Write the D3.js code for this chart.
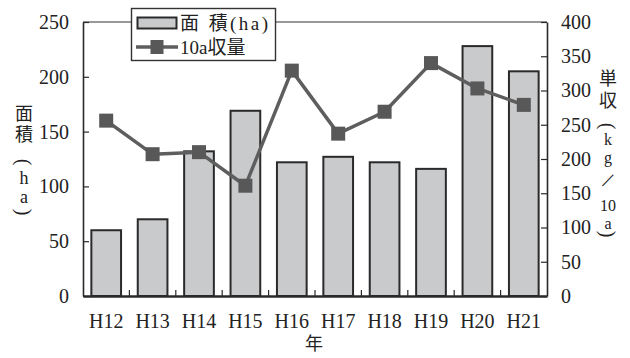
<!DOCTYPE html>
<html>
<head>
<meta charset="utf-8">
<script src="https://cdn.jsdelivr.net/npm/d3@7"></script>
<style>
  html, body { margin: 0; padding: 0; background: #fff; }
  svg { display: block; }
  text { font-family: "Liberation Serif", "Noto Sans CJK JP", serif; fill: #222; }
</style>
</head>
<body>
<svg id="chart" width="630" height="358"></svg>
<script>
// 年次（平成）
const years = ["H12", "H13", "H14", "H15", "H16", "H17", "H18", "H19", "H20", "H21"];
// 作付面積 (ha)
const areaHa = [60, 70, 132, 169, 122, 127, 122, 116, 228, 205];
// 10a当たり収量 (kg/10a)
const yieldPer10a = [256, 207, 210, 161, 329, 237, 269, 340, 303, 279];
// 目盛
const leftTicks = [0, 50, 100, 150, 200, 250];
const rightTicks = [0, 50, 100, 150, 200, 250, 300, 350, 400];

const serif = "'Liberation Serif', 'Noto Sans CJK JP', serif";
const svg = d3.select("#chart");
const plot = { left: 83, right: 547, top: 22, bottom: 296 };

const x = d3.scaleBand().domain(years)
  .range([plot.left, plot.right]).paddingInner(0.36).paddingOuter(0.18);
const yL = d3.scaleLinear().domain([0, 250]).range([plot.bottom, plot.top]);
const yR = d3.scaleLinear().domain([0, 400]).range([plot.bottom, plot.top]);

const inkDark = "#2a2a2a";
const barFill = "#c9cacc";
const lineColor = "#5e5e5e";
const markerColor = "#585858";

// 棒（面積）
svg.append("g").selectAll("rect").data(years).join("rect")
  .attr("x", d => x(d))
  .attr("width", x.bandwidth())
  .attr("y", (d, i) => yL(areaHa[i]))
  .attr("height", (d, i) => yL(0) - yL(areaHa[i]))
  .attr("fill", barFill)
  .attr("stroke", inkDark)
  .attr("stroke-width", 2);

// 上枠線
svg.append("line")
  .attr("x1", plot.left).attr("x2", plot.right)
  .attr("y1", plot.top).attr("y2", plot.top)
  .attr("stroke", "#333").attr("stroke-width", 1.2);

// 左軸
const axL = svg.append("g").attr("transform", `translate(${plot.left},0)`)
  .call(d3.axisLeft(yL).tickValues(leftTicks).tickSize(-6).tickPadding(14).tickSizeOuter(0));
// 右軸
const axR = svg.append("g").attr("transform", `translate(${plot.right},0)`)
  .call(d3.axisRight(yR).tickValues(rightTicks).tickSize(-6).tickPadding(14).tickSizeOuter(0));
// 下軸（ラベル）
const axB = svg.append("g").attr("transform", `translate(0,${plot.bottom})`)
  .call(d3.axisBottom(x).tickSize(0).tickPadding(18));

[axL, axR, axB].forEach(g => {
  g.attr("font-family", serif).attr("font-size", 20);
  g.select(".domain").attr("stroke", inkDark).attr("stroke-width", 1.6);
  g.selectAll(".tick line").attr("stroke", inkDark).attr("stroke-width", 1.2);
  g.selectAll(".tick text").attr("fill", "#222");
});
axB.select(".domain").attr("stroke-width", 2.4);

// 下軸の区切り目盛（カテゴリ間）
const boundaries = years.slice(1).map(d => x(d) - x.step() * x.paddingInner() / 2);
svg.append("g").selectAll("line").data(boundaries).join("line")
  .attr("x1", d => d).attr("x2", d => d)
  .attr("y1", plot.bottom).attr("y2", plot.bottom - 6)
  .attr("stroke", inkDark).attr("stroke-width", 1.2);

// 折れ線（10a収量）
const cx = d => x(d) + x.bandwidth() / 2;
const line = d3.line().x((d, i) => cx(years[i])).y(d => yR(d));
svg.append("path").datum(yieldPer10a)
  .attr("d", line)
  .attr("fill", "none")
  .attr("stroke", lineColor)
  .attr("stroke-width", 3.5)
  .attr("stroke-linejoin", "round");

const mk = 14;
svg.append("g").selectAll("rect").data(yieldPer10a).join("rect")
  .attr("x", (d, i) => cx(years[i]) - mk / 2)
  .attr("y", d => yR(d) - mk / 2)
  .attr("width", mk).attr("height", mk)
  .attr("fill", markerColor);

// 凡例
const lg = svg.append("g").attr("font-family", serif);
lg.append("rect").attr("x", 131.5).attr("y", 8.5).attr("width", 144).attr("height", 52)
  .attr("fill", "#fff").attr("stroke", "#333").attr("stroke-width", 1.4);
lg.append("rect").attr("x", 137.5).attr("y", 17.5).attr("width", 39).attr("height", 11)
  .attr("fill", barFill).attr("stroke", inkDark).attr("stroke-width", 2);
lg.append("text").attr("x", 180).attr("y", 30).attr("font-size", 19)
  .attr("textLength", 88).attr("lengthAdjust", "spacing")
  .text("面 積(ha)");
lg.append("line").attr("x1", 136).attr("x2", 178).attr("y1", 47).attr("y2", 47)
  .attr("stroke", lineColor).attr("stroke-width", 3.5);
lg.append("rect").attr("x", 157 - 6.5).attr("y", 47 - 7).attr("width", 13).attr("height", 14)
  .attr("fill", markerColor);
lg.append("text").attr("x", 180).attr("y", 54).attr("font-size", 19)
  .text("10a収量");

// 縦書き軸タイトル（1文字ずつ縦に並べる）
function vchar(g, ch, cxp, y, opts = {}) {
  const t = g.append("text")
    .attr("x", cxp).attr("y", y)
    .attr("text-anchor", "middle")
    .attr("font-family", serif)
    .attr("font-size", opts.size || 18)
    .text(ch);
  if (opts.central) t.attr("dominant-baseline", "central");
  if (opts.rotate) t.attr("transform", `rotate(${opts.rotate},${cxp},${y})`);
  return t;
}

const tl = svg.append("g");
vchar(tl, "面", 24, 114, { central: true });
vchar(tl, "積", 24, 135, { central: true });
vchar(tl, "(", 24, 162, { central: true, rotate: 90, size: 20 });
vchar(tl, "h", 24, 184);
vchar(tl, "a", 24, 203);
vchar(tl, ")", 24, 212, { central: true, rotate: 90, size: 20 });

const tr = svg.append("g");
vchar(tr, "単", 608, 79, { central: true });
vchar(tr, "収", 608, 101, { central: true });
vchar(tr, "(", 608, 126, { central: true, rotate: 90, size: 20 });
vchar(tr, "k", 608, 145, { size: 16 });
vchar(tr, "g", 608, 163, { size: 16 });
vchar(tr, "/", 608, 180, { central: true, rotate: 25, size: 22 });
vchar(tr, "10", 608, 211, { size: 16 });
vchar(tr, "a", 608, 229, { size: 16 });
vchar(tr, ")", 608, 234, { central: true, rotate: 90, size: 20 });

// 横軸タイトル
svg.append("text").attr("x", 314).attr("y", 344)
  .attr("text-anchor", "middle").attr("dominant-baseline", "central")
  .attr("font-size", 18).text("年");
</script>
</body>
</html>
